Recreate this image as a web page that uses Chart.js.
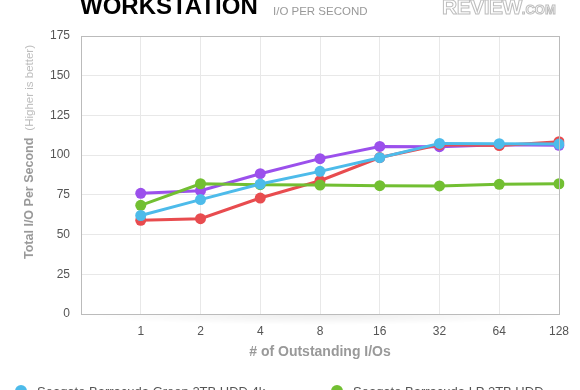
<!DOCTYPE html>
<html>
<head>
<meta charset="utf-8">
<script src="https://cdn.jsdelivr.net/npm/chart.js@4.4.1/dist/chart.umd.min.js"></script>
<style>
  html, body { margin: 0; padding: 0; background: #fff; overflow: hidden; }
  body { width: 580px; height: 390px; font-family: "Liberation Sans", Arial, sans-serif; }
  #wrap { position: relative; width: 580px; height: 390px; overflow: hidden; }
  #chart { position: absolute; left: 0; top: 0; }
  .head { position: absolute; left: 80px; top: -6px; font-size: 24px; line-height: 24px; font-weight: bold; color: #000; white-space: nowrap; }
  .sub { position: absolute; left: 273px; top: 5px; font-size: 11.5px; line-height: 12px; color: #999; white-space: nowrap; }
  .logo { position: absolute; left: 442px; top: -3px; font-size: 21px; line-height: 20px; font-weight: bold; color: #fff;
          -webkit-text-stroke: 1px #bdbdbd; white-space: nowrap; letter-spacing: -0.5px; }
  .logo small { font-size: 13px; letter-spacing: 0; }
  .xtitle { position: absolute; left: 320px; top: 351px; transform: translate(-50%, -50%); font-size: 14px; font-weight: bold; color: #999; white-space: nowrap; }
  .ytitle { position: absolute; left: 28px; top: 152px; transform: translate(-50%, -50%) rotate(-90deg); white-space: nowrap; }
  .ytitle b { font-size: 12.5px; color: #999; }
  .ytitle span { font-size: 11.5px; color: #bbb; margin-left: 7px; }
  .shadow { position: absolute; left: 81px; top: 315px; width: 478px; height: 10px;
            background: radial-gradient(ellipse at top, rgba(0,0,0,0.07), rgba(0,0,0,0) 70%); }
  .leg { position: absolute; display: flex; align-items: center; height: 16px; font-size: 13px; color: #555; white-space: nowrap; }
  .leg i { display: inline-block; width: 12px; height: 12px; border-radius: 50%; margin-right: 10px; }
</style>
</head>
<body>
<div id="wrap">
  <canvas id="chart" width="580" height="390"></canvas>
  <div class="shadow"></div>
  <div class="head">WORKSTATION</div>
  <div class="sub">I/O PER SECOND</div>
  <div class="logo">REVIEW<small>.COM</small></div>
  <div class="xtitle"># of Outstanding I/Os</div>
  <div class="ytitle"><b>Total I/O Per Second</b><span>(Higher is better)</span></div>
  <div id="legend"></div>
</div>
<script>
// x categories (first slot is empty, as in the original chart)
const categories = ['', '1', '2', '4', '8', '16', '32', '64', '128'];
const yTicks = [0, 25, 50, 75, 100, 125, 150, 175];

const seriesNames = [
  'Seagate Barracuda Green 2TB HDD 4k',
  'Seagate Barracuda LP 2TB HDD',
  'Seagate Barracuda 7200.14 3TB HDD',
  'WD Caviar Green 2TB HDD'
];
const seriesColors = ['#4dbbea', '#72bf32', '#e84c4f', '#9b50ec'];

const blueValues   = [null, 62, 72, 81.8, 89.8, 98.4, 107.4, 107.2, 107];
const greenValues  = [null, 68.4, 82, 81.4, 81.2, 80.8, 80.6, 81.6, 82];
const redValues    = [null, 59, 60, 73, 83.9, 98.5, 106.5, 106, 108.5];
const purpleValues = [null, 76, 77.6, 88.3, 97.8, 105.5, 105.3, 106.5, 106.2];
const allValues = [blueValues, greenValues, redValues, purpleValues];

// html legend, two columns (only first row fits in the window)
const legend = document.getElementById('legend');
seriesNames.forEach((name, i) => {
  const d = document.createElement('div');
  d.className = 'leg';
  d.style.left = (15 + (i % 2) * 316) + 'px';
  d.style.top = (383 + Math.floor(i / 2) * 22) + 'px';
  d.innerHTML = '<i style="background:' + seriesColors[i] + '"></i>' + name;
  legend.appendChild(d);
});

// draws the gray frame round the plot area
const frame = {
  id: 'frame',
  afterDraw(chart) {
    const a = chart.chartArea, ctx = chart.ctx;
    ctx.save();
    ctx.strokeStyle = '#bbb';
    ctx.lineWidth = 1;
    ctx.strokeRect(Math.round(a.left) + 0.5, Math.round(a.top) + 0.5,
                   Math.round(a.right - a.left), Math.round(a.bottom - a.top));
    ctx.restore();
  }
};

new Chart(document.getElementById('chart'), {
  type: 'line',
  data: {
    labels: categories,
    datasets: allValues.map((vals, i) => ({
      label: seriesNames[i],
      data: vals,
      borderColor: seriesColors[i],
      backgroundColor: seriesColors[i],
      borderWidth: 3,
      pointRadius: 5.5,
      pointBorderWidth: 0,
      tension: 0,
      fill: false
    }))
  },
  options: {
    responsive: false,
    animation: false,
    layout: { padding: { top: 36, right: 21, bottom: 0, left: 0 } },
    plugins: { legend: { display: false }, tooltip: { enabled: false } },
    scales: {
      x: {
        offset: false,
        grid: { color: '#e8e8e8', drawTicks: false },
        border: { color: '#bbb' },
        ticks: { color: '#555', font: { size: 12, family: 'Liberation Sans' }, padding: 10, maxRotation: 0, autoSkip: false },
        afterFit: s => { s.height = 76; }
      },
      y: {
        min: 0,
        max: 175,
        afterBuildTicks: s => { s.ticks = yTicks.map(v => ({ value: v })); },
        grid: { color: '#e8e8e8', drawTicks: false },
        border: { color: '#bbb' },
        ticks: { color: '#555', font: { size: 12, family: 'Liberation Sans' }, padding: 11 },
        afterFit: s => { s.width = 81; }
      }
    }
  },
  plugins: [frame]
});
</script>
</body>
</html>
